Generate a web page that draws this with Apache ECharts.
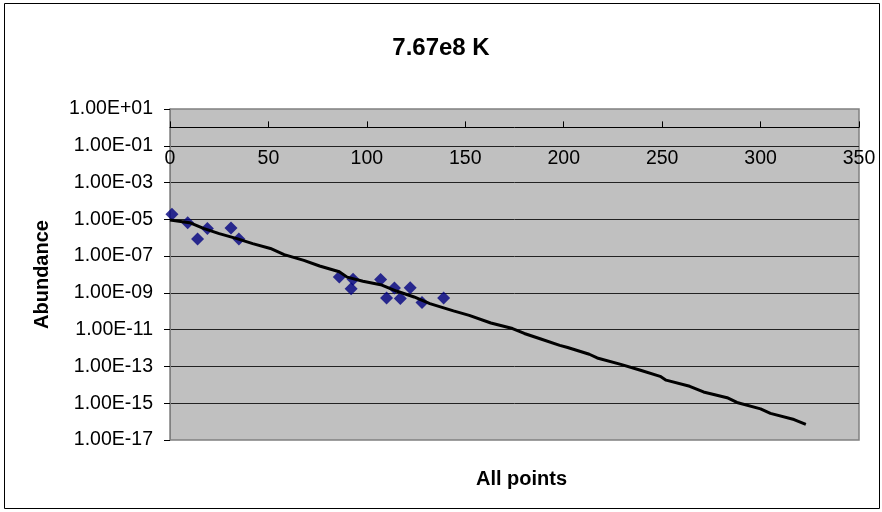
<!DOCTYPE html>
<html>
<head>
<meta charset="utf-8">
<script src="https://cdn.jsdelivr.net/npm/echarts@6/dist/echarts.min.js"></script>
<style>
  html, body { margin: 0; padding: 0; background: #fff; }
  #chart { width: 882px; height: 512px; }
</style>
</head>
<body>
<div id="chart"></div>
<script>
// ---- Data ----
const titleText = '7.67e8 K';
const yAxisName = 'Abundance';
const xAxisName = 'All points';

// scatter points (x, abundance)
const pointX = [1, 9, 14, 19, 31, 35, 86, 93, 92, 107, 110, 114, 117, 122, 128, 139];
const pointY = [1.9e-5, 6.6e-6, 8.5e-7, 3.2e-6, 3.4e-6, 8.5e-7, 7.3e-9, 5.5e-9, 1.7e-9,
                5.3e-9, 5.3e-10, 1.85e-9, 4.9e-10, 1.9e-9, 3.0e-10, 5.3e-10];

// line (model curve)
const lineX = [0, 10, 17, 25, 34, 42, 51, 58, 68, 76, 86, 90, 98, 107, 115, 124, 132, 144, 152,
               163, 174, 180, 188, 198, 202, 213, 217, 229, 239, 249, 252, 264, 271, 283, 288,
               300, 305, 317, 323];
const lineY = [9.3e-6, 6.6e-6, 3.2e-6, 1.66e-6, 8.9e-7, 4.8e-7, 2.6e-7, 1.2e-7, 5.9e-8, 2.9e-8,
               1.4e-8, 7.2e-9, 4.3e-9, 2.8e-9, 1.26e-9, 6.0e-10, 2.6e-10, 1.05e-10, 6.0e-11,
               2.3e-11, 1.15e-11, 6.2e-12, 3.2e-12, 1.4e-12, 1.07e-12, 4.6e-13, 2.9e-13, 1.3e-13,
               6.2e-14, 2.9e-14, 1.8e-14, 8.3e-15, 4.1e-15, 2.0e-15, 1.1e-15, 4.9e-16, 2.8e-16,
               1.3e-16, 7.1e-17];

// axes
const xMin = 0, xMax = 350, xStep = 50;
const yMin = 1e-17, yMax = 1e1, yDecadeStep = 2;
const xCross = 1; // x axis crosses the y axis at this value

// ---- Chart ----
const chart = echarts.init(document.getElementById('chart'), null, { renderer: 'canvas' });

const FONT = '"Liberation Sans", Arial, sans-serif';
const gridTop = 109, gridBottomPx = 440, gridLeft = 170, gridRightPx = 859;
const W = 882, H = 512;

function fmtExp(v) {
  const e = Math.round(Math.log10(v));
  const m = v / Math.pow(10, e);
  const sign = e < 0 ? '-' : '+';
  const a = Math.abs(e);
  return m.toFixed(2) + 'E' + sign + (a < 10 ? '0' + a : '' + a);
}

// position of the crossing value on the log axis, used as the x-axis offset
const logSpan = Math.log10(yMax) - Math.log10(yMin);
const crossPx = gridTop + (Math.log10(yMax) - Math.log10(xCross)) / logSpan * (gridBottomPx - gridTop);
const xOffset = -(gridBottomPx - crossPx);

const option = {
  animation: false,
  backgroundColor: '#ffffff',
  title: [
    { text: titleText, left: 'center', top: 31,
      textStyle: { fontFamily: FONT, fontSize: 24, fontWeight: 'bold', color: '#000' } },
    { text: xAxisName, left: (gridLeft + gridRightPx) / 2 + 2, textAlign: 'center', top: 464,
      textStyle: { fontFamily: FONT, fontSize: 20, fontWeight: 'bold', color: '#000' } }
  ],
  grid: {
    left: gridLeft, top: gridTop, right: W - gridRightPx, bottom: H - gridBottomPx,
    show: true, backgroundColor: '#c0c0c0', borderColor: '#808080', borderWidth: 1.5,
    containLabel: false
  },
  xAxis: {
    type: 'value', min: xMin, max: xMax, interval: xStep,
    position: 'bottom', offset: xOffset,
    axisLine: { show: true, onZero: false, lineStyle: { color: '#000', width: 1 } },
    axisTick: { show: true, inside: true, length: 6, lineStyle: { color: '#000' } },
    axisLabel: { fontFamily: FONT, fontSize: 19.5, color: '#000', margin: 21 },
    splitLine: { show: false }
  },
  yAxis: {
    type: 'log', logBase: 10, min: yMin, max: yMax, interval: yDecadeStep,
    name: yAxisName, nameLocation: 'middle', nameGap: 118,
    nameTextStyle: { fontFamily: FONT, fontSize: 20, fontWeight: 'bold', color: '#000' },
    axisLine: { show: true, lineStyle: { color: '#808080', width: 1 } },
    axisTick: { show: true, length: 6, lineStyle: { color: '#000' } },
    axisLabel: { fontFamily: FONT, fontSize: 19.5, color: '#000', margin: 17, formatter: fmtExp },
    minorTick: { show: false },
    splitLine: { show: true, showMinLine: false, showMaxLine: false,
                 lineStyle: { color: '#222', width: 1 } }
  },
  series: [
    {
      type: 'scatter', name: 'points', symbol: 'diamond', symbolSize: 13,
      itemStyle: { color: '#000080' },
      data: pointX.map((x, i) => [x, pointY[i]]),
      z: 2
    },
    {
      type: 'line', name: 'model', showSymbol: false, symbol: 'none',
      lineStyle: { color: '#000', width: 3 },
      data: lineX.map((x, i) => [x, lineY[i]]),
      z: 3
    }
  ],
  graphic: [
    { type: 'rect', shape: { x: 4.5, y: 3.5, width: 875, height: 505 },
      style: { fill: 'none', stroke: '#000', lineWidth: 1 }, silent: true }
  ]
};

chart.setOption(option);
</script>
</body>
</html>
